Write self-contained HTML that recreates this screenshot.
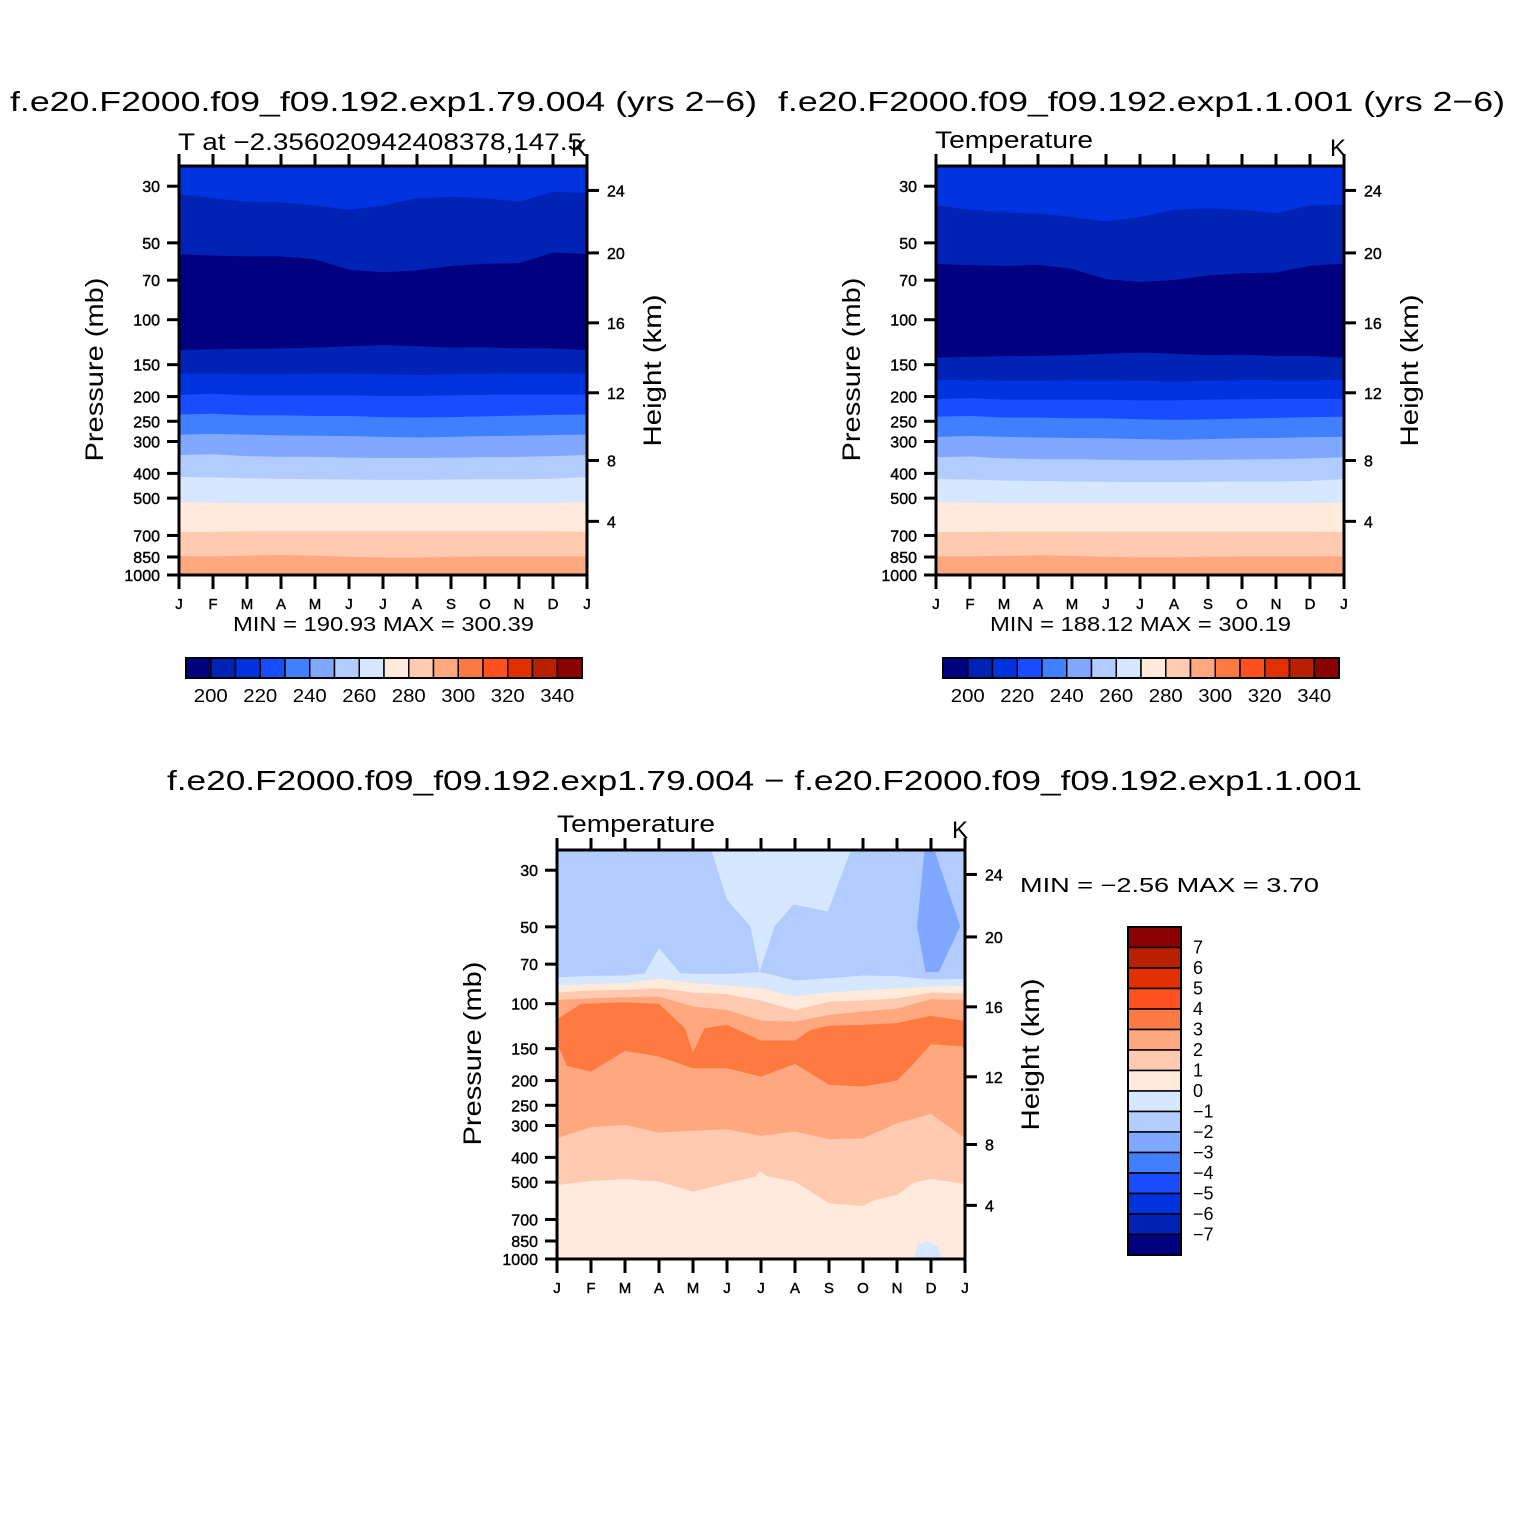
<!DOCTYPE html>
<html><head><meta charset="utf-8">
<style>
html,body{margin:0;padding:0;background:#fff;}
svg{display:block;font-family:"Liberation Sans",sans-serif;}
</style></head>
<body>
<svg id="fig" width="1524" height="1527" viewBox="0 0 1524 1527" xmlns="http://www.w3.org/2000/svg">
<rect width="1524" height="1527" fill="#fff"/>
</svg>
<script>
// ---------- data ----------
const months = ["J","F","M","A","M","J","J","A","S","O","N","D","J"];
const monthIdx = [0,1,2,3,4,5,6,7,8,9,10,11,12];
const pressureTicks = [30,50,70,100,150,200,250,300,400,500,700,850,1000];
const heightTicks = [24,20,16,12,8,4];
const tempLevels = [200,210,220,230,240,250,260,270,280,290,300,310,320,330,340];
const tempColors = ["#000080","#0022b5","#0033e0","#1a4cff","#4080ff","#80a8ff","#b3ccff","#d6e8ff","#ffeadb","#ffcab0","#ffa880","#ff7a40","#ff5020","#e03000","#b82000","#8b0000"];
const tempLabels = [200,220,240,260,280,300,320,340];
const diffLevels = [7,6,5,4,3,2,1,0,-1,-2,-3,-4,-5,-6,-7];
const diffColors = ["#8b0000","#b82000","#e03000","#ff5020","#ff7a40","#ffa880","#ffcab0","#ffeadb","#d6e8ff","#b3ccff","#80a8ff","#4080ff","#1a4cff","#0033e0","#0022b5","#000080"];

// Panel 1 band boundaries (pressure, mb) per month; colour index of band below the boundary
const p1TopColor = 2;
const p1BoundColors = [1,0,1,2,3,4,5,6,7,8,9,10,11];
const p1B1 = [32.2,33.4,34.5,34.7,35.7,37.1,35.7,33.4,33.0,33.4,34.5,31.5,31.9];
const p1B2 = [55.5,56.1,56.5,56.5,58.0,63.7,65.2,64.1,61.6,60.4,60.0,54.6,55.3];
const p1B3 = [131.7,130.5,130,129.5,128.7,127,125.7,127,128.7,128.2,129.5,129.5,131.7];
const p1B4 = [162.7,162.2,163.6,163.6,162.7,162.7,163.6,164.7,163.6,162.7,162.2,162.2,162.7];
const p1B5 = [197,195.1,197.8,197.8,197.8,197.8,199.1,199.1,197.8,197,196.5,196.5,196.5];
const p1B6 = [235.2,233.6,236.8,236.8,238.4,238.4,240.8,241.6,240.8,239.2,237.6,236,235.2];
const p1B7 = [282,280,282,283.7,284.8,285.7,287.7,289.5,287.7,285.7,284.8,282.8,282];
const p1B8 = [338.9,336.6,342.3,344.6,344.6,346.9,348.2,348.2,346.9,345.8,344.6,342.3,338.9];
const p1B9 = [413,414.4,418.5,420,421.4,422.8,424,424,422.8,421.4,421.4,420,413];
const p1B10 = [518.5,522,523.7,523.7,523.7,523.7,523.7,523.7,523.7,523.7,523.7,523.7,518.5];
const p1B11 = [678,678,673.6,673.6,673.6,673.6,673.6,673.6,673.6,673.6,673.6,673.6,678];
const p1B12 = [845.8,845.8,840,834.6,840,848.6,854.6,854.6,848.6,845.8,845.8,845.8,845.8];
const p1B13 = [993,993,993,993,993,993,993,993,993,993,993,993,993];

// Panel 2 band boundaries
const p2B1 = [35.7,37.0,38.0,38.3,39.6,41.2,39.6,37.1,36.6,37.1,38.3,35.6,35.4];
const p2B2 = [60.5,61.1,61.6,61.0,63.2,69.4,71.1,69.9,67.1,65.8,65.4,61.5,60.3];
const p2B3 = [140.9,139.6,139.1,138.6,137.7,135.9,134.5,135.9,137.7,137.2,138.6,138.6,140.9];
const p2B4 = [172.5,171.9,173.4,173.4,172.5,172.5,173.4,174.6,173.4,172.5,171.9,171.9,172.5];
const p2B5 = [204.9,202.9,205.7,205.7,205.7,205.7,207.1,207.1,205.7,204.9,204.4,204.4,204.4];
const p2B6 = [239.9,238.3,241.5,241.5,243.2,243.2,245.6,246.4,245.6,244,242.4,240.7,239.9];
const p2B7 = [287.6,285.6,287.6,289.4,290.5,291.4,293.5,295.3,293.5,291.4,290.5,288.5,287.6];
const p2B8 = [345.7,343.3,349.1,351.5,351.5,353.8,355.2,355.2,353.8,352.7,351.5,349.1,345.7];
const p2B9 = [421.3,422.7,426.9,428.4,429.8,431.3,432.5,432.5,431.3,429.8,429.8,428.4,421.3];
const p2B10 = [520,522,523.7,523.7,523.7,523.7,523.7,523.7,523.7,523.7,523.7,523.7,520];
const p2B11 = [678,678,676,676,676,676,676,676,676,676,676,676,678];
const p2B12 = [845.8,845.8,842,838,842,848.6,852,852,848.6,845.8,845.8,845.8,845.8];
const p2B13 = [993,993,993,993,993,993,993,993,993,993,993,993,993];

// Panel 3 (difference) boundaries: x = fractional month index, p = pressure
const p3BaX = [0,1,2,3,4,5,6,7,8,9,10,11,12];
const p3BaP = [78.9,77.8,77.5,75.2,76.4,76.4,75.2,81.1,79.4,77.5,78.0,80.4,79.9];
const p3BbX = [0,1,2,3,4,5,6,7,8,9,10,11,12];
const p3BbP = [84.9,83.6,83.1,79.9,83.1,85.1,87.0,93.8,90.4,88.8,87.0,85.6,85.1];
const p3BcX = [0,1,2,3,4,5,6,7,8,9,10,11,12];
const p3BcP = [90.4,88.8,88.3,87.0,90.4,91.8,97.2,105.8,98.1,97.2,95.2,90.4,91.0];
const p3BdX = [0,1,2,3,4,5,6,7,8,9,10,11,12];
const p3BdP = [96.6,95.2,94.3,93.8,102.6,105.8,116.4,117.5,110.7,107.3,104.5,96.0,96.6];
const p3BeX = [0,0.71,2,3,3.76,4,4.34,5,6,7,7.46,7.97,8.99,10,10.98,12];
const p3BeP = [115.0,100.2,98.7,100.2,124.7,154.9,124.7,121.0,139.4,139.4,126.6,122.1,121.0,119.2,111.6,116.7];
const p3BfX = [0,0.29,1,2,3,4,5,6,7,8,9,10,10.5,11,12];
const p3BfP = [142.8,175.2,184.5,153.0,161.1,179.0,179.0,193.0,172.1,208.0,211.2,200.1,171.0,144.2,147.2];
const p3BgX = [0,1,2,3,4,5,6,7,8,9,10,11,12];
const p3BgP = [336.6,304.8,298.5,319.8,314.1,310.3,329.6,316.9,339.6,336.6,294.0,270.3,336.6];
const p3BhX = [0,1,2,3,4,5,5.85,5.96,6.2,7,8,9,9.3,10,10.5,11,12];
const p3BhP = [512.8,494.7,487.3,497.6,544.5,505.2,475.7,452.0,475.7,497.6,605.3,619.9,590.9,561.2,502.1,485.8,508.2];
const pocketJX = [4.54,5.0,5.69,5.96,6.4,6.96,7.97,8.39,8.65];
const pocketJP = [25,39.2,49.8,75.2,49.8,40.8,43.6,30.8,25];
const pocketAX = [2.55,3.0,3.7];
const pocketAP = [77,60.6,78];
const pocketDX = [10.81,11.1,11.86,11.23,10.84,10.59];
const pocketDP = [25,25,49.8,75.2,75.2,49.8];
const blobX = [10.5,10.6,10.9,11.2,11.35];
const blobP = [1000,881.5,847.6,894.6,1000];

// ---------- drawing ----------
const NS="http://www.w3.org/2000/svg";
const svg=document.getElementById('fig');
function el(tag,attrs,parent){const e=document.createElementNS(NS,tag);for(const k in attrs)e.setAttribute(k,attrs[k]);(parent||svg).appendChild(e);return e;}
function txt(s,attrs,parent){const e=el('text',attrs,parent);e.textContent=s;return e;}
const P_TOP=25,P_BOT=1000;
function makeAxes(x0,y0,w,h){
  return {
    x:i=>x0+i*w/12,
    y:p=>y0+h-Math.log(P_BOT/p)/Math.log(P_BOT/P_TOP)*h
  };
}
function stdP(zkm){ // approximate standard atmosphere pressure (mb)
  const z=zkm*1000;
  if(z<=11000) return 1013.25*Math.pow(1-2.25577e-5*z,5.25588);
  if(z<=20000) return 226.32*Math.exp(-(z-11000)/6341.6);
  return 54.75*Math.exp(-(z-20000)/7100);
}
function layerPath(ax,xs,ps){
  let d='M'+ax.x(xs[0])+','+ax.y(ps[0]);
  for(let i=1;i<xs.length;i++) d+=' L'+ax.x(xs[i]).toFixed(2)+','+ax.y(ps[i]).toFixed(2);
  d+=' L'+ax.x(12)+','+ax.y(P_BOT)+' L'+ax.x(0)+','+ax.y(P_BOT)+' Z';
  return d;
}
function polyPath(ax,xs,ps){
  let d='';
  for(let i=0;i<xs.length;i++) d+=(i?' L':'M')+ax.x(xs[i]).toFixed(2)+','+ax.y(ps[i]).toFixed(2);
  return d+' Z';
}
function drawFrame(g,ax,x0,y0,w,h,name){
  pressureTicks.forEach(p=>{
    const y=ax.y(p);
    const t=el('line',{x1:x0-12,x2:x0,y1:y,y2:y,stroke:'#000','stroke-width':3},g);
    
    
    const l=txt(p,{x:x0-19,y:y+6,'text-anchor':'end','font-size':16,stroke:'#000','stroke-width':0.4},g);
    
    
  });
  heightTicks.forEach(z=>{
    const y=ax.y(stdP(z));
    const t=el('line',{x1:x0+w,x2:x0+w+12,y1:y,y2:y,stroke:'#000','stroke-width':3},g);
    
    
    const l=txt(z,{x:x0+w+20,y:y+6,'font-size':16,stroke:'#000','stroke-width':0.4},g);
    
    
  });
  monthIdx.forEach((m,i)=>{
    const x=ax.x(m);
    el('line',{x1:x,x2:x,y1:y0+h,y2:y0+h+14,stroke:'#000','stroke-width':3},g);
    el('line',{x1:x,x2:x,y1:y0-12,y2:y0,stroke:'#000','stroke-width':3},g);
    const l=txt(months[i],{x:x,y:y0+h+34,'text-anchor':'middle','font-size':15,stroke:'#000','stroke-width':0.4},g);
    
    
  });
  const r=el('rect',{x:x0,y:y0,width:w,height:h,fill:'none',stroke:'#000','stroke-width':3},g);
  
  
  const yl=txt('Pressure  (mb)',{transform:`translate(${x0-76},${y0+h/2-1}) rotate(-90)`,'text-anchor':'middle','font-size':25,textLength:184,lengthAdjust:'spacingAndGlyphs'},g);
  
  
  const yr=txt('Height  (km)',{transform:`translate(${x0+w+74},${y0+h/2}) rotate(-90)`,'text-anchor':'middle','font-size':25,textLength:152,lengthAdjust:'spacingAndGlyphs'},g);
  
  
}
function drawTempPanel(x0,y0,w,h,bounds,name){
  const g=el('g',{});
  
  
  const ax=makeAxes(x0,y0,w,h);
  const bg=el('rect',{x:x0,y:y0,width:w,height:h,fill:tempColors[p1TopColor]},g);
  
  
  bounds.forEach((b,i)=>{
    const p=el('path',{d:layerPath(ax,monthIdx,b),fill:tempColors[p1BoundColors[i]]},g);
    if(i===bounds.length-1) p.setAttribute('fill','#ffffff');
    
    
  });
  drawFrame(g,ax,x0,y0,w,h,name);
  return g;
}
function drawHColorbar(x0,y0,w,h,name){
  const g=el('g',{});
  
  
  const bw=w/tempColors.length;
  tempColors.forEach((c,i)=>{
    const r=el('rect',{x:x0+i*bw,y:y0,width:bw,height:h,fill:c,stroke:'#000','stroke-width':1.5},g);
    
    
  });
  el('rect',{x:x0,y:y0,width:w,height:h,fill:'none',stroke:'#000','stroke-width':2},g);
  tempLabels.forEach(v=>{
    const k=tempLevels.indexOf(v)+1;
    const l=txt(v,{x:x0+k*bw,y:y0+h+24,'text-anchor':'middle','font-size':18,textLength:34,lengthAdjust:'spacingAndGlyphs'},g);
    
    
  });
}
function T(s,attrs,name){const e=txt(s,attrs);return e;}

// Titles
T('f.e20.F2000.f09_f09.192.exp1.79.004 (yrs 2\u22126)',{x:10,y:111,'font-size':28,textLength:747,lengthAdjust:'spacingAndGlyphs'},'left-panel-title');
T('f.e20.F2000.f09_f09.192.exp1.1.001 (yrs 2\u22126)',{x:778,y:111,'font-size':28,textLength:727,lengthAdjust:'spacingAndGlyphs'},'right-panel-title');
T('T  at  \u22122.356020942408378,147.5',{x:178,y:150,'font-size':24,textLength:405,lengthAdjust:'spacingAndGlyphs'},'left-subtitle');
T('K',{x:571,y:156,'font-size':24},'left-units');
T('Temperature',{x:935,y:148,'font-size':24,textLength:158,lengthAdjust:'spacingAndGlyphs'},'right-subtitle');
T('K',{x:1330,y:156,'font-size':24},'right-units');

drawTempPanel(179,166,408,409,[p1B1,p1B2,p1B3,p1B4,p1B5,p1B6,p1B7,p1B8,p1B9,p1B10,p1B11,p1B12,p1B13],'left-panel');
drawTempPanel(936,166,408,409,[p2B1,p2B2,p2B3,p2B4,p2B5,p2B6,p2B7,p2B8,p2B9,p2B10,p2B11,p2B12,p2B13],'right-panel');

T('MIN  =  190.93  MAX  =  300.39',{x:233,y:631,'font-size':20,textLength:301,lengthAdjust:'spacingAndGlyphs'},'left-min-max');
T('MIN  =  188.12  MAX  =  300.19',{x:990,y:631,'font-size':20,textLength:301,lengthAdjust:'spacingAndGlyphs'},'right-min-max');

drawHColorbar(186,658,396,20,'left-colorbar');
drawHColorbar(943,658,396,20,'right-colorbar');

// Bottom difference panel
T('f.e20.F2000.f09_f09.192.exp1.79.004  \u2212  f.e20.F2000.f09_f09.192.exp1.1.001',{x:167,y:790,'font-size':28,textLength:1195,lengthAdjust:'spacingAndGlyphs'},'diff-panel-title');
T('Temperature',{x:557,y:832,'font-size':24,textLength:158,lengthAdjust:'spacingAndGlyphs'},'diff-subtitle');
T('K',{x:952,y:838,'font-size':24},'diff-units');
T('MIN  =    \u22122.56  MAX  =     3.70',{x:1020,y:892,'font-size':20,textLength:299,lengthAdjust:'spacingAndGlyphs'},'diff-min-max');

(function(){
  const x0=557,y0=850,w=408,h=409;
  const g=el('g',{});
  
  
  const ax=makeAxes(x0,y0,w,h);
  const C=v=>diffColors[diffLevels.indexOf(v)+1];
  el('rect',{x:x0,y:y0,width:w,height:h,fill:C(-1)},g);
  const parts=[
    ['poly',pocketJX,pocketJP,C(0)],
    ['poly',pocketAX,pocketAP,C(0)],
    ['poly',pocketDX,pocketDP,C(-2)],
    ['layer',p3BaX,p3BaP,C(0)],
    ['layer',p3BbX,p3BbP,C(1)],
    ['layer',p3BcX,p3BcP,C(2)],
    ['layer',p3BdX,p3BdP,C(3)],
    ['layer',p3BeX,p3BeP,C(4)],
    ['layer',p3BfX,p3BfP,C(3)],
    ['layer',p3BgX,p3BgP,C(2)],
    ['layer',p3BhX,p3BhP,C(1)],
    ['poly',blobX,blobP,C(0)]
  ];
  parts.forEach(pt=>{
    const d=pt[0]==='poly'?polyPath(ax,pt[1],pt[2]):layerPath(ax,pt[1],pt[2]);
    const p=el('path',{d:d,fill:pt[3]},g);
    
    
  });
  drawFrame(g,ax,x0,y0,w,h,'diff-panel');
})();

// Vertical colorbar
(function(){
  const x0=1128,y0=927,w=53,h=328;
  const g=el('g',{});
  
  
  const bh=h/diffColors.length;
  diffColors.forEach((c,i)=>{
    const r=el('rect',{x:x0,y:y0+i*bh,width:w,height:bh,fill:c,stroke:'#000','stroke-width':1.5},g);
    
    
  });
  el('rect',{x:x0,y:y0,width:w,height:h,fill:'none',stroke:'#000','stroke-width':2},g);
  diffLevels.forEach((v,i)=>{
    const l=txt(v<0?'\u2212'+(-v):String(v),{x:x0+w+12,y:y0+(i+1)*bh+6,'font-size':18},g);
    
    
  });
})();
</script>
</body></html>
